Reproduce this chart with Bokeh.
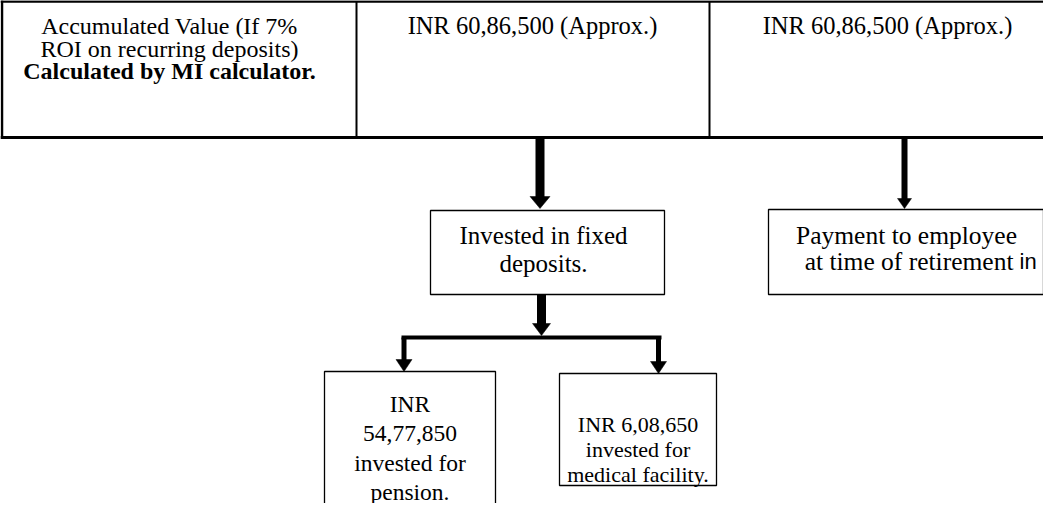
from bokeh.plotting import figure
from bokeh.models import Range1d
from bokeh.core.properties import value
from bokeh.embed import file_html
from bokeh.resources import INLINE

# ---- texts of the diagram ----
header_col1 = ["Accumulated Value (If 7%", "ROI on recurring deposits)"]
header_col1_bold = ["Calculated by MI calculator."]
header_col2 = ["INR 60,86,500 (Approx.)"]
header_col3 = ["INR 60,86,500 (Approx.)"]
fd_box_lines = ["Invested in fixed", "deposits."]
payment_lines = ["Payment to employee", "at time of retirement"]
payment_tail = ["in"]
pension_lines = ["INR", "54,77,850", "invested for", "pension."]
medical_lines = ["INR 6,08,650", "invested for", "medical facility."]

SERIF = "Liberation Serif"
SANS = "Liberation Sans"

W, H = 1043, 503
OX, OY = 8, 8

p = figure(width=W, height=H, x_range=Range1d(OX, OX + W), y_range=Range1d(OY + H, OY),
           output_backend="svg", toolbar_location=None, x_axis_type=None, y_axis_type=None,
           min_border=0, min_border_left=0, min_border_right=0, min_border_top=0, min_border_bottom=0)
p.grid.visible = False
p.outline_line_color = None
p.background_fill_color = "white"
p.border_fill_color = "white"


def hline(x0, x1, y, w):
    p.segment(x0=[x0], y0=[y], x1=[x1], y1=[y], line_width=w, line_color="black", line_cap="butt")


def vline(x, y0, y1, w):
    p.segment(x0=[x], y0=[y0], x1=[x], y1=[y1], line_width=w, line_color="black", line_cap="butt")


def box(l, r, t, b, w=1.3):
    p.quad(left=[l], right=[r], top=[t], bottom=[b], fill_color="white", line_color="black", line_width=w)


def texts(lines, cx, baselines, size, bold=False, align="center", font=SERIF):
    p.text(x=[cx] * len(lines), y=baselines, text=lines, text_align=align,
           text_baseline="alphabetic", text_font=value(font), text_font_size=value(f"{size}px"),
           text_font_style="bold" if bold else "normal", text_color="black")


def down_arrow(x, y0, tip, shaft_w, head_w, head_len):
    vline(x, y0, tip - head_len + 1, shaft_w)
    p.patch(x=[x - head_w / 2, x + head_w / 2, x], y=[tip - head_len, tip - head_len, tip],
            fill_color="black", line_color="black", line_width=0.5)


# ---- table ----
hline(8, 1060, 9, 2.5)
vline(9.5, 8, 146, 2.5)
hline(8, 1060, 145, 3)
vline(364, 9, 145, 2)
vline(717, 9, 145, 2)

texts(header_col1, 177, [33, 56], 24)
texts(header_col1_bold, 177, [78], 24, bold=True)
texts(header_col2, 540, [33], 24.5)
texts(header_col3, 895, [33], 24.5)

# ---- arrows from table ----
down_arrow(547.5, 146, 216, 9, 20, 12)
down_arrow(912, 146, 216, 6, 14, 10)

# ---- fixed deposit box ----
box(438, 672, 218, 302)
texts(fd_box_lines, 551, [243, 271], 25)

# ---- payment box ----
box(776, 1051, 217, 302)
texts(payment_lines[:1], 914, [243], 25.5)
texts(payment_lines[1:], 1021, [269], 25.5, align="right")
texts(payment_tail, 1027, [269], 22, align="left", font=SANS)

# ---- split arrows ----
down_arrow(549, 302, 343, 9, 18, 12)
hline(409, 669, 345, 4)
down_arrow(411.5, 345, 379, 5, 16, 12)
down_arrow(666, 345, 381, 5, 16, 12)

# ---- bottom boxes ----
box(332, 503, 379, 540)
texts(pension_lines, 417.5, [411, 441, 470, 499], 23.5)

box(567, 724, 381, 493)
texts(medical_lines, 645.5, [432, 457, 482], 22)

open("out.html", "w").write(file_html(p, INLINE))
